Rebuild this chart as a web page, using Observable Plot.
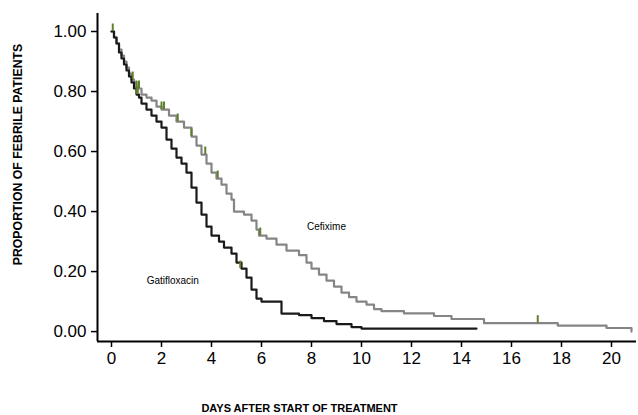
<!DOCTYPE html>
<html>
<head>
<meta charset="utf-8">
<script src="https://cdn.jsdelivr.net/npm/d3@7"></script>
<script src="https://cdn.jsdelivr.net/npm/@observablehq/plot@0.6"></script>
<style>
  html, body { margin: 0; padding: 0; background: #fff; }
  #chart { width: 638px; height: 415px; }
</style>
</head>
<body>
<div id="chart"></div>
<script>
// Gatifloxacin (black) Kaplan-Meier steps
const gatiDays   = [0, 0.1, 0.2, 0.3, 0.4, 0.5, 0.6, 0.7, 0.8, 0.9, 1.0, 1.1, 1.2, 1.4, 1.6, 1.8, 2.0, 2.2, 2.4, 2.6, 2.8, 3.0, 3.2, 3.4, 3.6, 3.8, 4.0, 4.3, 4.5, 4.8, 5.0, 5.2, 5.4, 5.6, 5.8, 6.0, 6.8, 7.5, 8.0, 8.5, 9.0, 9.6, 10.0, 14.6];
const gatiValues = [1.00, 0.98, 0.96, 0.93, 0.91, 0.89, 0.87, 0.85, 0.83, 0.81, 0.79, 0.78, 0.76, 0.74, 0.72, 0.70, 0.68, 0.64, 0.61, 0.58, 0.56, 0.53, 0.48, 0.43, 0.39, 0.35, 0.32, 0.30, 0.28, 0.26, 0.23, 0.21, 0.18, 0.14, 0.11, 0.10, 0.06, 0.055, 0.045, 0.035, 0.025, 0.015, 0.01, 0.01];

// Cefixime (grey) Kaplan-Meier steps
const cefiDays   = [0, 0.1, 0.2, 0.3, 0.4, 0.5, 0.6, 0.7, 0.8, 0.9, 1.0, 1.2, 1.4, 1.6, 1.8, 2.0, 2.3, 2.6, 2.9, 3.2, 3.4, 3.6, 3.8, 4.0, 4.2, 4.4, 4.6, 4.8, 4.9, 5.3, 5.6, 5.8, 5.9, 6.2, 6.6, 7.0, 7.5, 7.8, 8.0, 8.3, 8.6, 8.9, 9.2, 9.5, 9.8, 10.2, 10.5, 10.8, 11.7, 12.9, 13.6, 14.9, 17.85, 19.8, 20.8];
const cefiValues = [1.00, 0.98, 0.96, 0.94, 0.92, 0.90, 0.88, 0.86, 0.84, 0.83, 0.81, 0.79, 0.78, 0.77, 0.75, 0.74, 0.72, 0.70, 0.68, 0.65, 0.62, 0.59, 0.56, 0.53, 0.51, 0.49, 0.46, 0.44, 0.40, 0.39, 0.37, 0.34, 0.32, 0.31, 0.29, 0.27, 0.255, 0.23, 0.21, 0.19, 0.17, 0.15, 0.13, 0.115, 0.10, 0.09, 0.075, 0.068, 0.061, 0.052, 0.042, 0.028, 0.02, 0.012, 0.0];

// Censor marks
const cefiCensorDays   = [0.05, 0.85, 1.0, 1.1, 2.0, 2.1, 2.65, 3.2, 3.75, 4.25, 5.95, 17.05];
const cefiCensorValues = [1.00, 0.84, 0.81, 0.81, 0.74, 0.74, 0.70, 0.65, 0.59, 0.51, 0.32, 0.028];
const gatiCensorDays   = [1.0, 1.05, 5.15];
const gatiCensorValues = [0.79, 0.79, 0.21];

// Axis ticks and labels
const xTicks = [0, 2, 4, 6, 8, 10, 12, 14, 16, 18, 20];
const yTicks = [0, 0.2, 0.4, 0.6, 0.8, 1.0];
const seriesLabels = ["Cefixime", "Gatifloxacin"];
const seriesLabelDays = [8.6, 2.45];
const seriesLabelValues = [0.35, 0.17];
const xTitle = "DAYS AFTER START OF TREATMENT";
const yTitle = "PROPORTION OF FEBRILE PATIENTS";

const toRows = (xs, ys) => xs.map((d, i) => ({day: d, value: ys[i]}));
const gati = toRows(gatiDays, gatiValues);
const cefi = toRows(cefiDays, cefiValues);
const censors = [...toRows(cefiCensorDays, cefiCensorValues), ...toRows(gatiCensorDays, gatiCensorValues)];
const labels = seriesLabels.map((t, i) => ({text: t, day: seriesLabelDays[i], value: seriesLabelValues[i]}));

const xDomain = [-0.56, 21];
const yDomain = [-0.033, 1.06];

const chart = Plot.plot({
  width: 638,
  height: 415,
  marginLeft: 97,
  marginRight: 2,
  marginTop: 13,
  marginBottom: 74,
  x: {domain: xDomain},
  y: {domain: yDomain},
  style: {fontFamily: "'Liberation Sans', Arial, sans-serif", color: "#000", background: "#fff"},
  marks: [
    Plot.axisX({ticks: xTicks, tickFormat: d => String(d), tickSize: 6, tickPadding: 4, fontSize: 17, label: null, stroke: "#000", strokeWidth: 1.5}),
    Plot.axisY({ticks: yTicks, tickFormat: d3.format(".2f"), tickSize: 6, tickPadding: 5, fontSize: 17, label: null, stroke: "#000", strokeWidth: 1.5}),
    Plot.ruleY([yDomain[0]], {stroke: "#000", strokeWidth: 2}),
    Plot.ruleX([xDomain[0]], {stroke: "#000", strokeWidth: 2}),
    Plot.line(cefi, {x: "day", y: "value", curve: "step-after", stroke: "#858585", strokeWidth: 2.2}),
    Plot.line(gati, {x: "day", y: "value", curve: "step-after", stroke: "#1a1a1a", strokeWidth: 2.2}),
    Plot.ruleX(censors, {x: "day", y1: "value", y2: d => d.value + 0.025, stroke: "#5f7f2c", strokeWidth: 2}),
    Plot.text(labels, {x: "day", y: "value", text: "text", fontSize: 10, fill: "#000"}),
    Plot.text([xTitle], {frameAnchor: "bottom", textAnchor: "middle", dx: -67.5, dy: 70, fontSize: 11, fontWeight: "bold", fill: "#000"}),
    Plot.text([yTitle], {frameAnchor: "left", textAnchor: "middle", dx: -79, dy: -23, rotate: -90, fontSize: 12.3, fontWeight: "bold", fill: "#000"})
  ]
});
document.getElementById("chart").appendChild(chart);
</script>
</body>
</html>
